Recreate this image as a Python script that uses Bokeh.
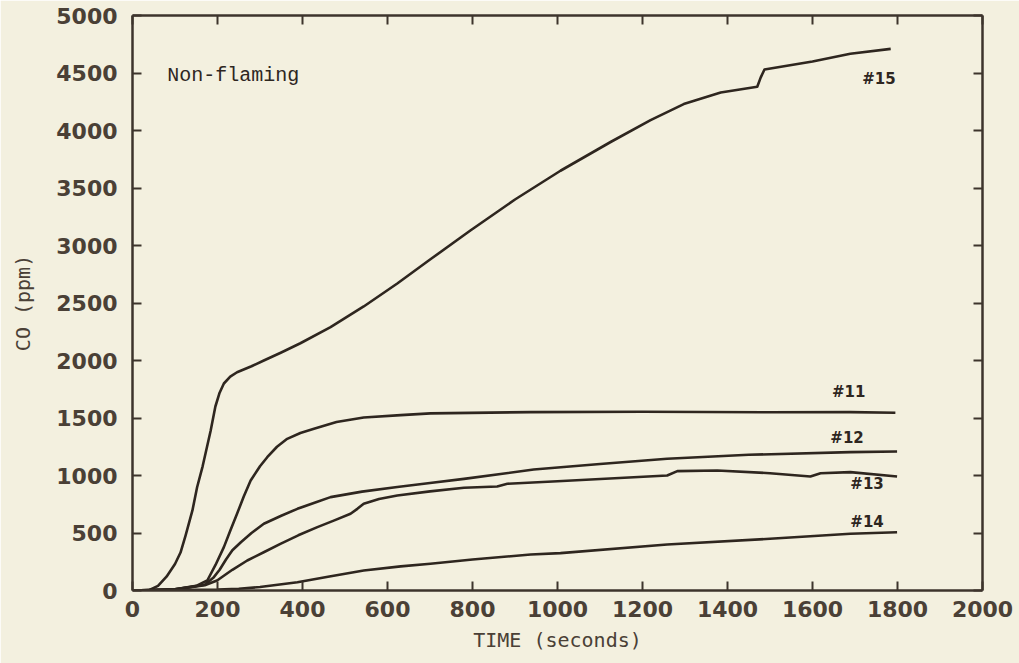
from bokeh.plotting import figure
from bokeh.models import Range1d, LinearAxis, FixedTicker, ColumnDataSource, CustomJSTickFormatter
from bokeh.core.properties import value
from bokeh.embed import file_html
from bokeh.resources import INLINE

# ---- data ----
t15 = [0, 40, 60, 80, 100, 113, 125, 141, 152, 165, 184, 195, 205, 215, 230, 246, 280, 309, 350, 395, 466, 544, 623, 701, 795, 900, 1007, 1125, 1219, 1297, 1384, 1470, 1478, 1487, 1600, 1689, 1784]
co15 = [0, 5, 40, 120, 230, 330, 480, 696, 898, 1080, 1391, 1600, 1720, 1800, 1860, 1898, 1950, 2000, 2070, 2150, 2290, 2470, 2670, 2880, 3130, 3400, 3650, 3900, 4090, 4230, 4330, 4380, 4460, 4530, 4600, 4667, 4710]

t11 = [0, 100, 150, 176, 195, 215, 230, 246, 262, 278, 300, 317, 340, 364, 395, 427, 480, 544, 631, 701, 937, 1200, 1500, 1689, 1795]
co11 = [0, 10, 40, 87, 220, 377, 520, 667, 820, 957, 1080, 1159, 1250, 1319, 1370, 1406, 1465, 1505, 1525, 1540, 1551, 1555, 1550, 1551, 1545]

t12 = [0, 100, 170, 190, 205, 220, 235, 255, 280, 309, 350, 388, 430, 466, 540, 623, 700, 780, 944, 1100, 1258, 1450, 1689, 1799]
co12 = [0, 10, 50, 110, 180, 270, 350, 420, 500, 580, 650, 710, 765, 812, 860, 900, 935, 971, 1052, 1100, 1145, 1180, 1203, 1209]

t13 = [0, 100, 170, 199, 235, 270, 310, 348, 390, 435, 475, 513, 529, 544, 580, 623, 700, 780, 858, 882, 1000, 1258, 1282, 1376, 1500, 1595, 1619, 1689, 1799]
co13 = [0, 10, 45, 87, 180, 261, 335, 406, 480, 551, 610, 667, 710, 754, 795, 826, 862, 893, 905, 928, 950, 1000, 1038, 1043, 1020, 991, 1020, 1029, 991]

t14 = [0, 200, 250, 300, 388, 460, 544, 631, 701, 800, 937, 1007, 1258, 1500, 1689, 1799]
co14 = [0, 8, 15, 30, 72, 120, 174, 210, 232, 270, 313, 325, 400, 450, 493, 507]

label_text = ["#11", "#12", "#13", "#14", "#15"]
label_t = [1646, 1642, 1689, 1689, 1717]
label_co = [1724, 1330, 922, 600, 4452]

x_ticks = [0, 200, 400, 600, 800, 1000, 1200, 1400, 1600, 1800, 2000]
y_ticks = [0, 500, 1000, 1500, 2000, 2500, 3000, 3500, 4000, 4500, 5000]

title_text = "Non-flaming"

# ---- styles ----
BG = "#f3f0df"
INK = "#2e261f"
AXC = "#3d342c"
LBL = "#4a4036"

p = figure(width=1019, height=663, output_backend="svg", toolbar_location=None,
           x_range=Range1d(0, 2000), y_range=Range1d(0, 5000),
           min_border_left=132, min_border_right=37, min_border_top=15, min_border_bottom=73)
p.background_fill_color = BG
p.border_fill_color = BG
p.outline_line_color = None
p.grid.visible = False

for ax in (p.xaxis[0], p.yaxis[0]):
    ax.axis_line_color = AXC
    ax.axis_line_width = 2.5
    ax.major_tick_line_color = AXC
    ax.major_tick_line_width = 2
    ax.major_tick_in = 9
    ax.major_tick_out = 0
    ax.minor_tick_line_color = None
    ax.major_label_text_font = "DejaVu Sans"
    ax.major_label_text_font_style = "bold"
    ax.major_label_text_font_size = "22px"
    ax.major_label_text_color = LBL
    ax.axis_label_text_font = "DejaVu Sans Mono"
    ax.axis_label_text_font_style = "normal"
    ax.axis_label_text_font_size = "20px"
    ax.axis_label_text_color = LBL

p.xaxis[0].ticker = FixedTicker(ticks=x_ticks)
p.yaxis[0].ticker = FixedTicker(ticks=y_ticks)
p.xaxis[0].axis_label = "TIME (seconds)"
p.yaxis[0].axis_label = "CO (ppm)"
p.xaxis[0].major_label_standoff = 10
p.yaxis[0].major_label_standoff = 15
p.xaxis[0].axis_label_standoff = 8
p.yaxis[0].axis_label_standoff = 18

# frame axes (top / right) with inward ticks, no labels
blank = CustomJSTickFormatter(code="return ''")
top = LinearAxis(ticker=FixedTicker(ticks=x_ticks), formatter=blank)
right = LinearAxis(ticker=FixedTicker(ticks=y_ticks), formatter=blank)
for ax in (top, right):
    ax.axis_line_color = AXC
    ax.axis_line_width = 2.5
    ax.major_tick_line_color = AXC
    ax.major_tick_line_width = 2
    ax.major_tick_in = 9
    ax.major_tick_out = 0
    ax.minor_tick_line_color = None
    ax.major_label_standoff = 0
p.add_layout(top, "above")
p.add_layout(right, "right")

for t, c in ((t15, co15), (t11, co11), (t12, co12), (t13, co13), (t14, co14)):
    p.line(t, c, line_color=INK, line_width=2.6, line_join="round")

src = ColumnDataSource(dict(x=label_t, y=label_co, text=label_text))
p.text(x="x", y="y", text="text", source=src, text_font=value("DejaVu Sans"),
       text_font_style="bold", text_font_size="15px", text_color=INK,
       text_align="left", text_baseline="middle")

p.text(x=[82], y=[4478], text=[title_text], text_font=value("Liberation Mono"),
       text_font_size="20px", text_color=INK, text_align="left", text_baseline="middle")

open("out.html", "w").write(file_html(p, INLINE))
